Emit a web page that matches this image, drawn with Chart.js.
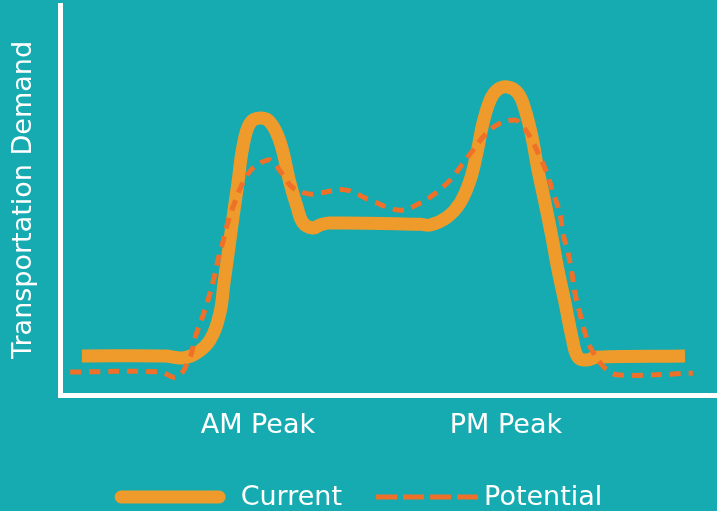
<!DOCTYPE html>
<html>
<head>
<meta charset="utf-8">
<script src="https://cdn.jsdelivr.net/npm/chart.js@4.4.1/dist/chart.umd.min.js"></script>
<style>
    html, body { margin: 0; padding: 0; background: #15abb0; }
    canvas { display: block; }
</style>
</head>
<body>
<canvas id="demandChart" width="717" height="511"></canvas>
<script>
// 时间轴 (小时) 与需求值 (0-100)
const currentHours = [0.80, 3.84, 4.49, 5.00, 5.48, 5.84, 5.99, 6.16, 6.32, 6.50, 6.68, 6.94, 7.31, 7.67, 8.04, 8.40, 8.66, 8.88, 9.24, 9.50, 9.86, 13.15, 13.52, 14.14, 14.61, 14.98, 15.23, 15.45, 15.71, 15.96, 16.33, 16.73, 16.99, 17.24, 17.46, 17.72, 17.97, 18.19, 18.45, 18.70, 18.92, 19.25, 19.62, 22.83];
const currentDemand = [10.0, 10.0, 9.5, 10.8, 14.1, 21.0, 28.7, 37.2, 45.6, 54.4, 63.6, 69.7, 71.0, 70.0, 64.9, 54.4, 48.2, 44.1, 42.8, 43.6, 44.1, 43.8, 43.6, 45.6, 49.2, 55.1, 62.1, 69.7, 75.6, 78.2, 79.0, 77.4, 73.1, 66.2, 57.7, 49.2, 40.5, 32.1, 23.6, 14.9, 9.7, 9.0, 9.7, 10.0];

const potentialHours = [0.37, 3.65, 4.27, 4.75, 4.93, 5.19, 5.41, 5.59, 5.77, 5.95, 6.14, 6.39, 6.68, 7.05, 7.60, 7.78, 8.15, 8.51, 9.13, 9.50, 10.41, 11.32, 12.42, 13.15, 13.63, 14.25, 14.68, 15.09, 15.53, 16.07, 16.62, 16.80, 17.17, 17.53, 17.79, 18.01, 18.26, 18.37, 18.56, 18.70, 18.81, 18.99, 19.18, 19.43, 19.98, 20.46, 23.12];
const potentialDemand = [5.9, 5.9, 4.6, 9.7, 14.6, 19.7, 24.4, 29.0, 34.6, 39.2, 44.4, 49.5, 54.4, 58.2, 60.3, 59.7, 56.4, 53.1, 51.5, 51.8, 52.6, 50.0, 47.4, 49.2, 51.3, 55.1, 59.0, 62.8, 66.7, 69.7, 70.5, 69.7, 66.2, 61.0, 56.9, 51.8, 46.7, 41.5, 36.4, 31.3, 26.2, 21.0, 15.9, 11.5, 6.4, 5.1, 5.6];

// 横轴刻度
const tickValues = [7.23, 16.29];
const tickLabels = ['AM Peak', 'PM Peak'];

const FONT = 'DejaVu Sans';

function toPoints(xs, ys) {
    return xs.map((x, i) => ({ x: x, y: ys[i] }));
}

// 底部图例 (线长、文字间距按数据集顺序)
const bottomLegend = {
    id: 'bottomLegend',
    afterDraw(chart, args, opts) {
        const ctx = chart.ctx;
        const y = 497;
        ctx.save();
        ctx.font = '27px "' + FONT + '"';
        const items = chart.data.datasets.map((ds, i) => ({
            ds: ds,
            len: opts.lineLengths[i],
            gap: opts.textGaps[i],
            w: ctx.measureText(ds.label).width
        }));
        let total = 0;
        items.forEach((it, i) => {
            total += it.len + it.gap + it.w + (i > 0 ? opts.itemGap : 0);
        });
        let x = (chart.width - total) / 2;
        items.forEach((it, i) => {
            if (i > 0) x += opts.itemGap;
            const ds = it.ds;
            ctx.beginPath();
            ctx.strokeStyle = ds.borderColor;
            ctx.lineWidth = ds.borderWidth;
            if (ds.borderDash) {
                ctx.setLineDash([21, 6]);
                ctx.lineCap = 'butt';
                ctx.moveTo(x, y);
                ctx.lineTo(x + it.len, y);
            } else {
                ctx.setLineDash([]);
                ctx.lineCap = 'round';
                ctx.moveTo(x + ds.borderWidth / 2, y);
                ctx.lineTo(x + it.len - ds.borderWidth / 2, y);
            }
            ctx.stroke();
            x += it.len + it.gap;
            ctx.fillStyle = '#ffffff';
            ctx.textBaseline = 'alphabetic';
            ctx.fillText(ds.label, x, 505);
            x += it.w;
        });
        ctx.restore();
    }
};

const ctx = document.getElementById('demandChart').getContext('2d');
new Chart(ctx, {
    type: 'line',
    data: {
        datasets: [
            {
                label: 'Current',
                data: toPoints(currentHours, currentDemand),
                borderColor: '#ee9b2c',
                borderWidth: 13,
                borderCapStyle: 'butt',
                tension: 0.4,
                pointRadius: 0,
                fill: false,
                order: 2
            },
            {
                label: 'Potential',
                data: toPoints(potentialHours, potentialDemand),
                borderColor: '#ef7029',
                borderWidth: 5,
                borderDash: [11, 8],
                borderCapStyle: 'butt',
                tension: 0.4,
                pointRadius: 0,
                fill: false,
                order: 1
            }
        ]
    },
    options: {
        responsive: false,
        animation: false,
        layout: {
            padding: { top: 5, right: 0, bottom: 0, left: 0 }
        },
        plugins: {
            legend: { display: false },
            tooltip: { enabled: false },
            bottomLegend: {
                lineLengths: [111, 102],
                textGaps: [15, 6],
                itemGap: 34
            }
        },
        scales: {
            x: {
                type: 'linear',
                min: 0,
                max: 24,
                grid: { display: false, drawTicks: false },
                border: { display: true, color: '#ffffff', width: 5 },
                afterBuildTicks: scale => {
                    scale.ticks = tickValues.map(v => ({ value: v }));
                },
                afterFit: scale => {
                    scale.height = 116;
                },
                ticks: {
                    autoSkip: false,
                    maxRotation: 0,
                    padding: 15,
                    color: '#ffffff',
                    font: { family: FONT, size: 27 },
                    callback: (value, index) => tickLabels[index]
                }
            },
            y: {
                min: 0,
                max: 100,
                grid: { display: false, drawTicks: false },
                border: { display: true, color: '#ffffff', width: 5 },
                ticks: { display: false },
                afterFit: scale => {
                    scale.width = 60;
                },
                title: {
                    display: true,
                    text: 'Transportation Demand',
                    color: '#ffffff',
                    padding: { top: 8, bottom: 0 },
                    font: { family: FONT, size: 27 }
                }
            }
        }
    },
    plugins: [bottomLegend]
});
</script>
</body>
</html>
